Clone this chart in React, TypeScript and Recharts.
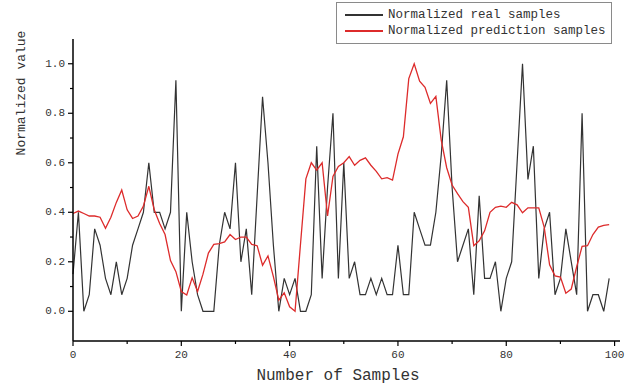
import React from "react";
import { Legend, Line, LineChart, XAxis, YAxis } from "recharts";

// sample values, index 0..99
const realSamples = [
  0.15, 0.4, 0, 0.067, 0.333, 0.267, 0.133, 0.067, 0.2, 0.067,
  0.133, 0.267, 0.333, 0.4, 0.6, 0.4, 0.4, 0.333, 0.4, 0.933,
  0, 0.4, 0.2, 0.067, 0, 0, 0, 0.267, 0.4, 0.333,
  0.6, 0.2, 0.333, 0.067, 0.467, 0.867, 0.6, 0.267, 0, 0.133,
  0.067, 0.133, 0, 0, 0.067, 0.667, 0.133, 0.5, 0.8, 0.133,
  0.6, 0.133, 0.2, 0.067, 0.067, 0.133, 0.067, 0.133, 0.067, 0.067,
  0.267, 0.067, 0.067, 0.4, 0.333, 0.267, 0.267, 0.4, 0.633, 0.933,
  0.5, 0.2, 0.267, 0.333, 0.067, 0.467, 0.133, 0.133, 0.2, 0,
  0.133, 0.2, 0.6, 1.0, 0.533, 0.667, 0.133, 0.333, 0.4, 0.067,
  0.133, 0.333, 0.2, 0.067, 0.8, 0, 0.067, 0.067, 0, 0.133,
];

const predictionSamples = [
  0.395, 0.405, 0.395, 0.385, 0.385, 0.38, 0.335, 0.38, 0.44, 0.49,
  0.41, 0.375, 0.385, 0.425, 0.505, 0.41, 0.355, 0.31, 0.205, 0.16,
  0.08, 0.066, 0.135, 0.08, 0.15, 0.235, 0.27, 0.273, 0.28, 0.31,
  0.29, 0.3, 0.3, 0.27, 0.265, 0.186, 0.224, 0.14, 0.045, 0.075,
  0.018, 0.0, 0.27, 0.535, 0.6, 0.57, 0.6, 0.385, 0.545, 0.585,
  0.6, 0.625, 0.59, 0.61, 0.62, 0.59, 0.565, 0.535, 0.54, 0.53,
  0.635, 0.705, 0.94, 1.0, 0.93, 0.905, 0.84, 0.868, 0.69, 0.58,
  0.51, 0.475, 0.443, 0.42, 0.265, 0.285, 0.325, 0.4, 0.42, 0.425,
  0.42, 0.44, 0.43, 0.398, 0.418, 0.418, 0.418, 0.34, 0.188, 0.143,
  0.138, 0.073, 0.09, 0.18, 0.262, 0.265, 0.31, 0.34, 0.347, 0.35,
];

const xTicks = [0, 10, 20, 30, 40, 50, 60, 70, 80, 90, 100];
const yTicks = [0, 0.1, 0.2, 0.3, 0.4, 0.5, 0.6, 0.7, 0.8, 0.9, 1.0];

const seriesNames = ["Normalized real samples", "Normalized prediction samples"];
const seriesColors = ["#333333", "#dd2b2b"];

const data = realSamples.map((v, i) => ({ idx: i, real: v, pred: predictionSamples[i] }));

const FONT = "'Liberation Mono', 'DejaVu Sans Mono', monospace";

function XTick(props: any) {
  const { x, y, payload } = props;
  const major = payload.value % 20 === 0;
  return (
    <g>
      <line x1={x} x2={x} y1={y} y2={y + (major ? 5 : 3)} stroke="#000" strokeWidth={1.2} />
      {major && (
        <text x={x} y={y + 14} textAnchor="middle" dominantBaseline="central" fontFamily={FONT} fontSize={11} fill="#333">
          {payload.value}
        </text>
      )}
    </g>
  );
}

function YTick(props: any) {
  const { x, y, payload, index } = props;
  const major = index % 2 === 0;
  return (
    <g>
      <line x1={x} x2={x - (major ? 5 : 3)} y1={y} y2={y} stroke="#000" strokeWidth={1.2} />
      {major && (
        <text x={x - 8} y={y} textAnchor="end" dominantBaseline="central" fontFamily={FONT} fontSize={11} fill="#333">
          {payload.value.toFixed(1)}
        </text>
      )}
    </g>
  );
}

function LegendBox() {
  return (
    <div
      style={{
        border: "1px solid #8a8a8a",
        background: "#fff",
        padding: "4px 5px 4px 8px",
        fontFamily: FONT,
        fontSize: 12.5,
        color: "#333",
        lineHeight: "16px",
        whiteSpace: "nowrap",
      }}
    >
      {seriesNames.map((name, i) => (
        <div key={name} style={{ display: "flex", alignItems: "center" }}>
          <span style={{ display: "inline-block", width: 38, height: 2, background: seriesColors[i], marginRight: 5 }} />
          <span>{name}</span>
        </div>
      ))}
    </div>
  );
}

export default function App() {
  return (
    <div style={{ position: "absolute", left: 0, top: 0, background: "#fff" }}>
      <LineChart width={633} height={387} data={data} margin={{ top: 39, right: 13, bottom: 6, left: 0 }}>
        <XAxis
          dataKey="idx"
          type="number"
          domain={[0, 101]}
          ticks={xTicks}
          interval={0}
          tickSize={0}
          tickMargin={0}
          tickLine={false}
          height={40}
          axisLine={{ stroke: "#000", strokeWidth: 1.5 }}
          tick={<XTick />}
          label={() => (
            <text x={338} y={376} textAnchor="middle" dominantBaseline="central" fontFamily={FONT} fontSize={16} fill="#333">
              Number of Samples
            </text>
          )}
        />
        <YAxis
          type="number"
          domain={[-0.12, 1.1]}
          ticks={yTicks}
          interval={0}
          tickSize={0}
          tickMargin={0}
          tickLine={false}
          width={73}
          allowDataOverflow
          axisLine={{ stroke: "#000", strokeWidth: 1.5 }}
          tick={<YTick />}
          label={() => (
            <text x={21} y={93} transform="rotate(-90 21 93)" textAnchor="middle" dominantBaseline="central" fontFamily={FONT} fontSize={13} fill="#333">
              Normalized value
            </text>
          )}
        />
        <Legend
          layout="vertical"
          align="center"
          verticalAlign="middle"
          content={() => <LegendBox />}
          wrapperStyle={{ position: "absolute", left: 336, top: 2, width: "auto" }}
        />
        <Line
          dataKey="real"
          name={seriesNames[0]}
          stroke={seriesColors[0]}
          strokeWidth={1.2}
          dot={false}
          isAnimationActive={false}
        />
        <Line
          dataKey="pred"
          name={seriesNames[1]}
          stroke={seriesColors[1]}
          strokeWidth={1.3}
          dot={false}
          isAnimationActive={false}
        />
      </LineChart>
    </div>
  );
}
